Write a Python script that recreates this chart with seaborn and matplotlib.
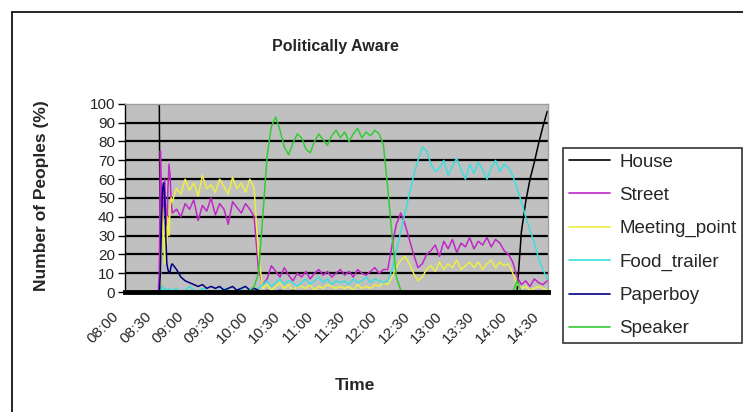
import matplotlib
matplotlib.use("Agg")
import matplotlib.pyplot as plt
import matplotlib.transforms as mtransforms
import seaborn as sns
import pandas as pd
from matplotlib.lines import Line2D

# minutes after 08:00 (fine steps around the 08:32 spike, then every 4 min)
minutes = [0, 31, 32, 33, 34, 35, 36, 37, 38, 39, 40, 41, 42, 43,
           44, 48, 52, 56, 60, 64, 68, 72, 76, 80,
           84, 88, 92, 96, 100, 104, 108, 112, 116, 120,
           124, 128, 132, 136, 140, 144, 148, 152, 156, 160,
           164, 168, 172, 176, 180, 184, 188, 192, 196, 200,
           204, 208, 212, 216, 220, 224, 228, 232, 236, 240,
           244, 248, 252, 256, 260, 264, 268, 272, 276, 280,
           284, 288, 292, 296, 300, 304, 308, 312, 316, 320,
           324, 328, 332, 336, 340, 344, 348, 352, 356, 360,
           364, 368, 372, 376, 380, 384, 388, 392]

house = [100, 100, 100, 0, 0, 0, 0, 0, 0, 0, 0, 0, 0, 0,
         0, 0, 0, 0, 0, 0, 0, 0, 0, 0,
         0, 0, 0, 0, 0, 0, 0, 0, 0, 0,
         0, 0, 0, 0, 0, 0, 0, 0, 0, 0,
         0, 0, 0, 0, 0, 0, 0, 0, 0, 0,
         0, 0, 0, 0, 0, 0, 0, 0, 0, 0,
         0, 0, 0, 0, 0, 0, 0, 0, 0, 0,
         0, 0, 0, 0, 0, 0, 0, 0, 0, 0,
         0, 0, 0, 0, 0, 0, 0, 0, 0, 0,
         0, 32, 48, 60, 69, 79, 88, 96]

street = [0, 0, 10, 75, 55, 30, 45, 60, 40, 35, 55, 68, 62, 48,
          42, 44, 40, 47, 44, 49, 38, 46, 43, 50,
          41, 47, 44, 36, 48, 45, 42, 47, 44, 40,
          12, 4, 7, 14, 11, 8, 13, 9, 6, 10,
          8, 11, 7, 10, 12, 9, 11, 8, 10, 12,
          9, 11, 8, 12, 10, 9, 11, 13, 10, 12,
          12, 25, 36, 42, 36, 28, 20, 13, 15, 20,
          22, 25, 19, 27, 23, 28, 21, 26, 24, 29,
          23, 27, 25, 29, 24, 28, 26, 22, 20, 16,
          8, 4, 6, 3, 7, 5, 4, 6]

meeting_point = [0, 0, 0, 5, 20, 45, 30, 15, 35, 25, 40, 30, 45, 50,
                 48, 55, 52, 60, 54, 58, 51, 62, 55, 57,
                 53, 60, 56, 52, 61, 55, 58, 53, 60, 55,
                 20, 2, 4, 1, 3, 5, 2, 4, 1, 3,
                 3, 2, 4, 1, 3, 2, 4, 3, 2, 3,
                 2, 3, 1, 4, 2, 3, 2, 4, 3, 5,
                 4, 8, 13, 17, 19, 15, 10, 6, 8, 12,
                 14, 11, 16, 12, 15, 13, 17, 12, 14, 16,
                 13, 16, 12, 15, 17, 13, 16, 14, 15, 10,
                 4, 2, 3, 1, 2, 3, 2, 1]

food_trailer = [0, 0, 0, 0, 2, 3, 2, 1, 2, 0, 1, 2, 1, 0,
                1, 2, 0, 1, 3, 1, 0, 2, 1, 0,
                1, 0, 2, 1, 0, 1, 2, 0, 1, 0,
                2, 4, 6, 3, 5, 7, 4, 6, 5, 3,
                5, 7, 4, 6, 8, 5, 7, 4, 6, 5,
                6, 4, 7, 5, 6, 8, 5, 7, 6, 5,
                6, 12, 22, 32, 42, 52, 62, 70, 77, 75,
                68, 64, 66, 70, 62, 67, 71, 65, 60, 68,
                63, 69, 65, 60, 66, 70, 64, 68, 66, 62,
                55, 48, 40, 33, 26, 18, 12, 7]

paperboy = [0, 0, 0, 10, 35, 55, 58, 50, 30, 15, 12, 10, 11, 14,
            15, 12, 8, 6, 5, 4, 3, 4, 2, 3,
            2, 3, 1, 2, 3, 1, 2, 3, 1, 2,
            1, 0, 1, 0, 0, 1, 0, 0, 1, 0,
            0, 0, 0, 0, 0, 0, 0, 0, 0, 0,
            0, 0, 0, 0, 0, 0, 0, 0, 0, 0,
            0, 0, 0, 0, 0, 0, 0, 0, 0, 0,
            0, 0, 0, 0, 0, 0, 0, 0, 0, 0,
            0, 0, 0, 0, 0, 0, 0, 0, 0, 0,
            0, 0, 0, 0, 0, 0, 0, 0]

speaker = [0, 0, 0, 0, 0, 0, 0, 0, 0, 0, 0, 0, 0, 0,
           0, 0, 0, 0, 0, 0, 0, 0, 0, 0,
           0, 0, 0, 0, 0, 0, 0, 0, 1, 3,
           10, 40, 72, 88, 93, 86, 77, 73, 79, 84,
           82, 76, 74, 80, 84, 81, 78, 83, 86, 82,
           85, 80, 84, 87, 82, 85, 83, 86, 84, 78,
           55, 30, 8, 1, 0, 0, 0, 0, 0, 0,
           0, 0, 0, 0, 0, 0, 0, 0, 0, 0,
           0, 0, 0, 0, 0, 0, 0, 0, 0, 0,
           6, 0, 0, 0, 0, 0, 0, 0]

series_names = ["House", "Street", "Meeting_point", "Food_trailer", "Paperboy", "Speaker"]
series_colors = ["#000000", "#c026c8", "#eeee44", "#3cdede", "#000080", "#33cc33"]
tick_minutes = [0, 30, 60, 90, 120, 150, 180, 210, 240, 270, 300, 330, 360, 390]
tick_labels = ["08:00", "08:30", "09:00", "09:30", "10:00", "10:30", "11:00",
               "11:30", "12:00", "12:30", "13:00", "13:30", "14:00", "14:30"]
y_ticks = [0, 10, 20, 30, 40, 50, 60, 70, 80, 90, 100]

df = pd.DataFrame({"minute": minutes, "House": house, "Street": street,
                   "Meeting_point": meeting_point, "Food_trailer": food_trailer,
                   "Paperboy": paperboy, "Speaker": speaker})
df_long = df.melt(id_vars="minute", var_name="serie", value_name="pct")

sns.set_style("white")
plt.rcParams['font.family'] = ['Liberation Sans', 'DejaVu Sans']

fig = plt.figure(figsize=(7.43, 4.12), dpi=100)
ax = fig.add_axes([0.168, 0.291, 0.570, 0.457])
ax.set_facecolor("#c0c0c0")

# grid noire horizontale facon Excel
for v in y_ticks[1:-1]:
    ax.axhline(v, color="black", lw=1.6, zorder=0.5)

sns.lineplot(data=df_long, x="minute", y="pct", hue="serie", hue_order=series_names,
             palette=dict(zip(series_names, series_colors)), estimator=None,
             sort=False, lw=1.1, legend=False, ax=ax)

ax.set_xlim(0, 393)
ax.set_ylim(0, 100)
ax.set_yticks(y_ticks)
ax.set_yticklabels([str(v) for v in y_ticks], fontsize=11)
ax.tick_params(axis="y", length=5, width=1, color="black", pad=2, direction="out", left=True)
ax.tick_params(axis="x", length=0, pad=12)
ax.set_xticks(tick_minutes)
ax.set_xticklabels(tick_labels, rotation=45, ha="right", rotation_mode="anchor", fontsize=11)
# decale les etiquettes vers la gauche comme dans Excel
decal = mtransforms.ScaledTranslation(-13 / 100, 0, fig.dpi_scale_trans)
for lab in ax.xaxis.get_majorticklabels():
    lab.set_transform(lab.get_transform() + decal)
ax.set_xlabel("")
ax.set_ylabel("")

for s in ["top", "right"]:
    ax.spines[s].set_color("#a0a0a0")
    ax.spines[s].set_linewidth(1)
ax.spines["left"].set_color("black")
ax.spines["left"].set_linewidth(1)
ax.spines["bottom"].set_color("black")
ax.spines["bottom"].set_linewidth(3.5)

fig.text(335 / 743, 1 - 47 / 412, "Politically Aware", ha="center", va="center",
         fontsize=11.5, fontweight="bold")
fig.text(42 / 743, 1 - 196 / 412, "Number of Peoples (%)", ha="center", va="center",
         rotation=90, fontsize=12.5, fontweight="bold")
fig.text(355 / 743, 1 - 385 / 412, "Time", ha="center", va="center",
         fontsize=12.5, fontweight="bold")

handles = [Line2D([0], [0], color=c, lw=1.2) for c in series_colors]
leg = fig.legend(handles, series_names, loc="upper left",
                 bbox_to_anchor=(563 / 743, 1 - 148 / 412), fontsize=13.5,
                 frameon=True, fancybox=False, edgecolor="black",
                 handlelength=2.2, handletextpad=0.5, labelspacing=0.86,
                 borderpad=0.3, borderaxespad=0)
leg.get_frame().set_linewidth(1.2)

# cadre exterieur
fig.add_artist(Line2D([12 / 743, 12 / 743], [0, 1 - 12 / 412], color="black", lw=1.2))
fig.add_artist(Line2D([12 / 743, 1], [1 - 12 / 412, 1 - 12 / 412], color="black", lw=1.2))

fig.savefig("out.png", dpi=100)
